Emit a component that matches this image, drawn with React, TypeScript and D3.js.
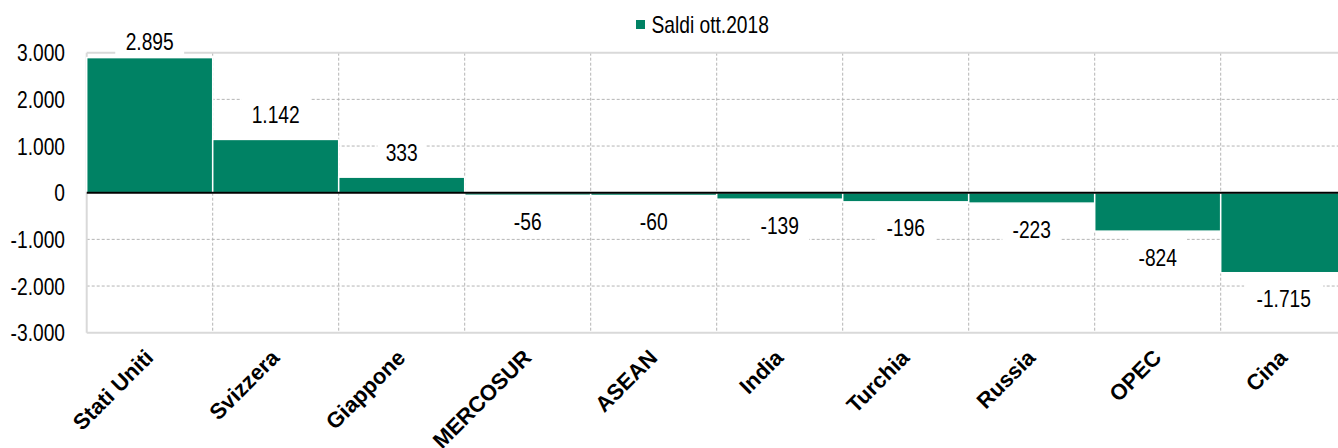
import * as d3 from "d3";

const categories = [
  "Stati Uniti",
  "Svizzera",
  "Giappone",
  "MERCOSUR",
  "ASEAN",
  "India",
  "Turchia",
  "Russia",
  "OPEC",
  "Cina",
];
const values = [2895, 1142, 333, -56, -60, -139, -196, -223, -824, -1715];
const yTicks = [-3000, -2000, -1000, 0, 1000, 2000, 3000];
const seriesName = "Saldi ott.2018";

const W = 1338;
const H = 448;
const GREEN = "#008264";
const FONT = "'Liberation Sans', Arial, sans-serif";
const NARROW = 0.8;

const it = d3.formatLocale({
  decimal: ",",
  thousands: ".",
  grouping: [3],
  currency: ["€", ""],
  minus: "-",
});
const fmt = it.format(",");

export default function App() {
  const x = d3.scaleBand().domain(categories).range([86.7, 1346.7]).padding(0);
  const y = d3.scaleLinear().domain([-3000, 3000]).range([332.7, 52.7]);
  const [top, bottom] = [y(3000), y(-3000)];
  const fs = 24;

  return (
    <div style={{ position: "absolute", left: 0, top: 0 }}>
      <svg width={W} height={H} style={{ display: "block" }} fontFamily={FONT}>
        {/* horizontal grid */}
        {yTicks
          .filter((t) => t !== 0 && Math.abs(t) !== 3000)
          .map((t) => (
            <line
              key={t}
              x1={x.range()[0]}
              x2={x.range()[1]}
              y1={y(t)}
              y2={y(t)}
              stroke="#b4b4b4"
              strokeDasharray="3 2"
            />
          ))}
        {/* vertical grid at category boundaries */}
        {categories.slice(1).map((c) => (
          <line
            key={c}
            x1={x(c)}
            x2={x(c)}
            y1={top}
            y2={bottom}
            stroke="#b4b4b4"
            strokeDasharray="3 2"
          />
        ))}
        {/* plot frame */}
        <line x1={x.range()[0]} x2={x.range()[1]} y1={top} y2={top} stroke="#d9d9d9" strokeWidth={2} />
        <line x1={x.range()[0]} x2={x.range()[1]} y1={bottom} y2={bottom} stroke="#d9d9d9" strokeWidth={2} />
        <line x1={x.range()[0]} x2={x.range()[0]} y1={top} y2={bottom} stroke="#d9d9d9" strokeWidth={2} />

        {/* bars */}
        {categories.map((c, i) => {
          const v = values[i];
          return (
            <rect
              key={c}
              x={x(c)!}
              width={x.bandwidth()}
              y={y(Math.max(0, v))}
              height={Math.abs(y(v) - y(0))}
              fill={GREEN}
              stroke="#fff"
              strokeWidth={1.5}
            />
          );
        })}
        <line x1={x.range()[0]} x2={x.range()[1]} y1={y(0)} y2={y(0)} stroke="#000" strokeWidth={2} />

        {/* data labels */}
        {categories.map((c, i) => {
          const v = values[i];
          const label = fmt(v);
          const cx = x(c)! + x.bandwidth() / 2;
          let cy = v >= 0 ? y(v) - 25 : y(v) + 26;
          cy = Math.max(cy, 41);
          const tw = label.length * fs * 0.53 * NARROW;
          const bw = tw + 18;
          return (
            <g key={c}>
              <rect x={cx - bw / 2} y={cy - 20} width={bw} height={37} fill="#fff" />
              <text
                transform={`translate(${cx},${cy + fs * 0.358}) scale(${NARROW},1)`}
                textAnchor="middle"
                fontSize={fs}
                fill="#000"
              >
                {label}
              </text>
            </g>
          );
        })}

        {/* y axis labels */}
        {yTicks.map((t) => (
          <text
            key={t}
            transform={`translate(65,${y(t) + fs * 0.358}) scale(${NARROW},1)`}
            textAnchor="end"
            fontSize={fs}
            fill="#000"
          >
            {fmt(t)}
          </text>
        ))}

        {/* x axis labels */}
        {categories.map((c) => {
          const cx = x(c)! + x.bandwidth() / 2;
          return (
            <text
              key={c}
              transform={`translate(${cx + 5},${359}) rotate(-45)`}
              textAnchor="end"
              fontSize={22}
              fontWeight="bold"
              fill="#000"
            >
              {c}
            </text>
          );
        })}

        {/* legend */}
        <rect x={636} y={20} width={9} height={9} fill={GREEN} />
        <text
          transform={`translate(651.5,${24.5 + fs * 0.358}) scale(${NARROW},1)`}
          fontSize={fs}
          fill="#000"
        >
          {seriesName}
        </text>
      </svg>
    </div>
  );
}
